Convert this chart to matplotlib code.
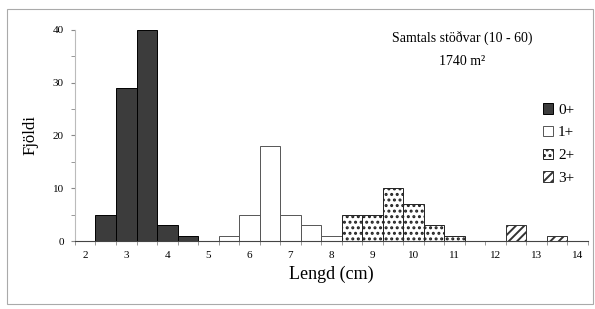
import matplotlib.pyplot as plt
from matplotlib.patches import Rectangle

plt.rcParams['font.family'] = ['Liberation Serif', 'DejaVu Serif']
plt.rcParams['hatch.linewidth'] = 1.4

# lengd (cm), fjoldi per aldurshop
x0 = [2.5, 3.0, 3.5, 4.0, 4.5]
y0 = [5, 29, 40, 3, 1]
x1 = [5.5, 6.0, 6.5, 7.0, 7.5, 8.0]
y1 = [1, 5, 18, 5, 3, 1]
x2 = [8.5, 9.0, 9.5, 10.0, 10.5, 11.0]
y2 = [5, 5, 10, 7, 3, 1]
x3 = [12.5, 13.5]
y3 = [3, 1]

fig = plt.figure(figsize=(5.95, 3.09), dpi=100)
fig.patches.append(Rectangle((0.012, 0.015), 0.985, 0.955, transform=fig.transFigure,
                             fill=False, edgecolor='#aaaaaa', lw=0.8))
ax = fig.add_axes([0.126, 0.22, 0.862, 0.683])

w = 0.5
b0 = ax.bar(x0, y0, width=w, color='#3c3c3c', edgecolor='black', lw=0.7)
b1 = ax.bar(x1, y1, width=w, color='white', edgecolor='#555555', lw=0.7)
b2 = ax.bar(x2, y2, width=w, color='white', edgecolor='#222222', lw=0.7, hatch='...')
b3 = ax.bar(x3, y3, width=w, color='white', edgecolor='#333333', lw=0.7, hatch='////')

ax.set_xlim(1.75, 14.25)
ax.set_ylim(0, 40)
ax.set_xticks(range(2, 15))
ax.set_xticks([1.75 + 0.5 * k for k in range(26)], minor=True)
ax.set_yticks([0, 10, 20, 30, 40])
ax.set_yticks([5, 15, 25, 35], minor=True)
ax.tick_params(axis='x', which='major', length=0, labelsize=8, pad=7)
ax.tick_params(axis='x', which='minor', length=3, direction='out', color='#888888')
ax.tick_params(axis='y', which='both', length=3, direction='out', color='#888888',
               labelsize=8, pad=5)

for s in ['top', 'right']:
    ax.spines[s].set_visible(False)
ax.spines['left'].set_color('#bbbbbb')
ax.spines['bottom'].set_color('#444444')

ax.set_xlabel('Lengd (cm)', fontsize=13, labelpad=4)
ax.set_ylabel('Fjöldi', fontsize=12, labelpad=10)

ax.text(0.755, 0.99, 'Samtals stöðvar (10 - 60)\n1740 m²', transform=ax.transAxes,
        ha='center', va='top', fontsize=10, linespacing=1.9)

ax.legend([b0, b1, b2, b3], ['0+', '1+', '2+', '3+'], loc='upper right',
          bbox_to_anchor=(1.0, 0.72), frameon=False, fontsize=11,
          handlelength=0.7, handleheight=0.7, handletextpad=0.3, labelspacing=0.6)

fig.savefig('out.png', dpi=100)
